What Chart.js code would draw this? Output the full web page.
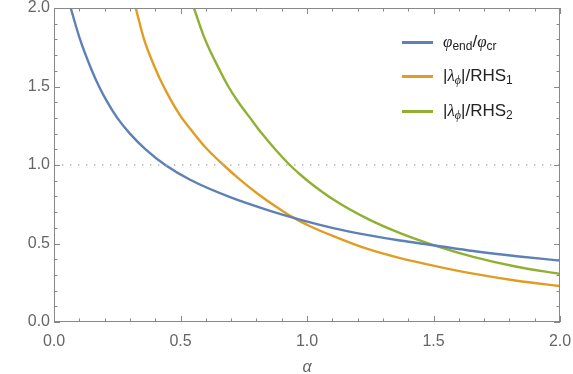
<!DOCTYPE html>
<html>
<head>
<meta charset="utf-8">
<script src="https://cdn.jsdelivr.net/npm/chart.js@4.4.1/dist/chart.umd.min.js"></script>
<style>
  body { margin: 0; background: #fff; }
  #wrap { position: relative; width: 573px; height: 374px; }
  #legend { position: absolute; left: 402px; top: 0; font-family: "Liberation Sans", Arial, sans-serif; font-size: 17px; color: #222; }
  .item { position: absolute; left: 0; height: 20px; line-height: 20px; white-space: nowrap; }
  .item .sw { position: absolute; left: 0; top: 9px; width: 31px; height: 2.5px; }
  .item .lab { position: absolute; left: 41px; top: 0; }
  .item sub { font-size: 12px; vertical-align: -3px; line-height: 0; }
  .item i { font-family: "Liberation Serif", "DejaVu Serif", serif; }
</style>
</head>
<body>
<div id="wrap">
  <canvas id="grafico" width="573" height="374"></canvas>
  <div id="legend"></div>
</div>
<script>
// curve 1: phi_end / phi_cr
const alphaBlue = [0.066, 0.103, 0.150, 0.178, 0.211, 0.250, 0.300, 0.362, 0.440, 0.538, 0.696, 0.854, 0.972, 1.104, 1.236, 1.368, 1.500, 1.657, 1.829, 2.0];
const valBlue   = [2.0,   1.8,   1.6,   1.5,   1.4,   1.3,   1.2,   1.1,   1.0,   0.906, 0.795, 0.708, 0.652, 0.598, 0.555, 0.519, 0.489, 0.452, 0.419, 0.391];

// curve 2: |lambda_phi| / RHS1
const alphaOrange = [0.323, 0.356, 0.402, 0.428, 0.461, 0.501, 0.547, 0.600, 0.670, 0.735, 0.801, 0.887, 0.939, 1.012, 1.104, 1.236, 1.368, 1.526, 1.657, 1.829, 2.0];
const valOrange   = [2.0,   1.80,  1.608, 1.517, 1.416, 1.310, 1.213, 1.110, 1.0,   0.907, 0.822, 0.724, 0.671, 0.610, 0.547, 0.467, 0.407, 0.350, 0.308, 0.263, 0.229];

// curve 3: |lambda_phi| / RHS2
const alphaGreen = [0.553, 0.597, 0.656, 0.689, 0.729, 0.775, 0.822, 0.874, 0.932, 0.972, 1.012, 1.104, 1.236, 1.368, 1.500, 1.657, 1.829, 2.0];
const valGreen   = [2.0,   1.8,   1.6,   1.5,   1.4,   1.3,   1.2,   1.1,   1.0,   0.941, 0.887, 0.780, 0.660, 0.566, 0.490, 0.415, 0.352, 0.306];

// dotted reference line
const alphaRef = [0, 2];
const valRef = [1, 1];

const xTicks = [0, 0.5, 1.0, 1.5, 2.0];
const yTicks = [0, 0.5, 1.0, 1.5, 2.0];

const labelsHtml = [
  '<i>φ</i><sub>end</sub>/<i>φ</i><sub>cr</sub>',
  '|<i>λ</i><sub><i>ϕ</i></sub>|/RHS<sub>1</sub>',
  '|<i>λ</i><sub><i>ϕ</i></sub>|/RHS<sub>2</sub>'
];
const cores = ['#5e81b5', '#e19c24', '#8fb032'];

function pontos(xs, ys) {
  return xs.map((x, i) => ({ x: x, y: ys[i] }));
}

/* moldura com ticks para dentro */
const moldura = {
  id: 'moldura',
  afterDraw(chart) {
    const c = chart.ctx;
    const a = chart.chartArea;
    const sx = chart.scales.x, sy = chart.scales.y;
    c.save();
    c.setLineDash([]);
    c.strokeStyle = '#888';
    c.lineWidth = 1;
    c.strokeRect(Math.round(a.left) + 0.5, Math.round(a.top) + 0.5, Math.round(a.right - a.left) - 1, Math.round(a.bottom - a.top) - 1);
    c.beginPath();
    for (let k = 0; k <= 20; k++) {
      const v = k / 10;
      const len = (k % 5 === 0) ? 6 : 3.5;
      const px = Math.round(sx.getPixelForValue(v)) + 0.5;
      const py = Math.round(sy.getPixelForValue(v)) + 0.5;
      c.moveTo(px, a.bottom); c.lineTo(px, a.bottom - len);
      c.moveTo(px, a.top); c.lineTo(px, a.top + len);
      c.moveTo(a.left, py); c.lineTo(a.left + len, py);
      c.moveTo(a.right, py); c.lineTo(a.right - len, py);
    }
    c.stroke();
    c.restore();
  }
};

const fonteTick = { family: '"Liberation Sans", Arial, sans-serif', size: 16 };

const ctx = document.getElementById('grafico').getContext('2d');
const grafico = new Chart(ctx, {
  type: 'line',
  data: {
    datasets: [
      { label: 'ref', data: pontos(alphaRef, valRef), borderColor: '#b4b4b4', borderWidth: 1.3, borderDash: [1.4, 6.6], pointRadius: 0, tension: 0 },
      { label: 'phi_end/phi_cr', data: pontos(alphaBlue, valBlue), borderColor: cores[0], borderWidth: 2.4, pointRadius: 0, cubicInterpolationMode: 'monotone' },
      { label: '|lambda_phi|/RHS1', data: pontos(alphaOrange, valOrange), borderColor: cores[1], borderWidth: 2.4, pointRadius: 0, cubicInterpolationMode: 'monotone' },
      { label: '|lambda_phi|/RHS2', data: pontos(alphaGreen, valGreen), borderColor: cores[2], borderWidth: 2.4, pointRadius: 0, cubicInterpolationMode: 'monotone' }
    ]
  },
  options: {
    responsive: false,
    animation: false,
    layout: { padding: { top: 8, right: 13, left: 0, bottom: 0 } },
    plugins: { legend: { display: false }, tooltip: { enabled: false } },
    scales: {
      x: {
        type: 'linear', min: 0, max: 2,
        grid: { display: false, drawTicks: false },
        border: { display: false },
        afterBuildTicks: s => { s.ticks = xTicks.map(v => ({ value: v })); },
        afterFit: s => { s.height = 52; s.paddingLeft = 0; s.paddingRight = 0; },
        ticks: { color: '#666', font: fonteTick, padding: 10, maxRotation: 0, callback: v => v.toFixed(1) },
        title: { display: true, text: 'α', color: '#666', font: { family: '"Liberation Sans", Arial, sans-serif', size: 16, style: 'italic' }, padding: { top: 0, bottom: -3 } }
      },
      y: {
        type: 'linear', min: 0, max: 2,
        grid: { display: false, drawTicks: false },
        border: { display: false },
        afterBuildTicks: s => { s.ticks = yTicks.map(v => ({ value: v })); },
        afterFit: s => { s.width = 54; s.paddingTop = 0; s.paddingBottom = 0; },
        ticks: { color: '#666', font: fonteTick, padding: 4, callback: v => v.toFixed(1) }
      }
    }
  },
  plugins: [moldura]
});

// legenda em HTML (precisa de subscritos)
const legenda = document.getElementById('legend');
const centros = [42, 76, 111];
labelsHtml.forEach((h, i) => {
  const d = document.createElement('div');
  d.className = 'item';
  d.style.top = (centros[i] - 10) + 'px';
  d.innerHTML = '<span class="sw" style="background:' + cores[i] + '"></span><span class="lab">' + h + '</span>';
  legenda.appendChild(d);
});
</script>
</body>
</html>
